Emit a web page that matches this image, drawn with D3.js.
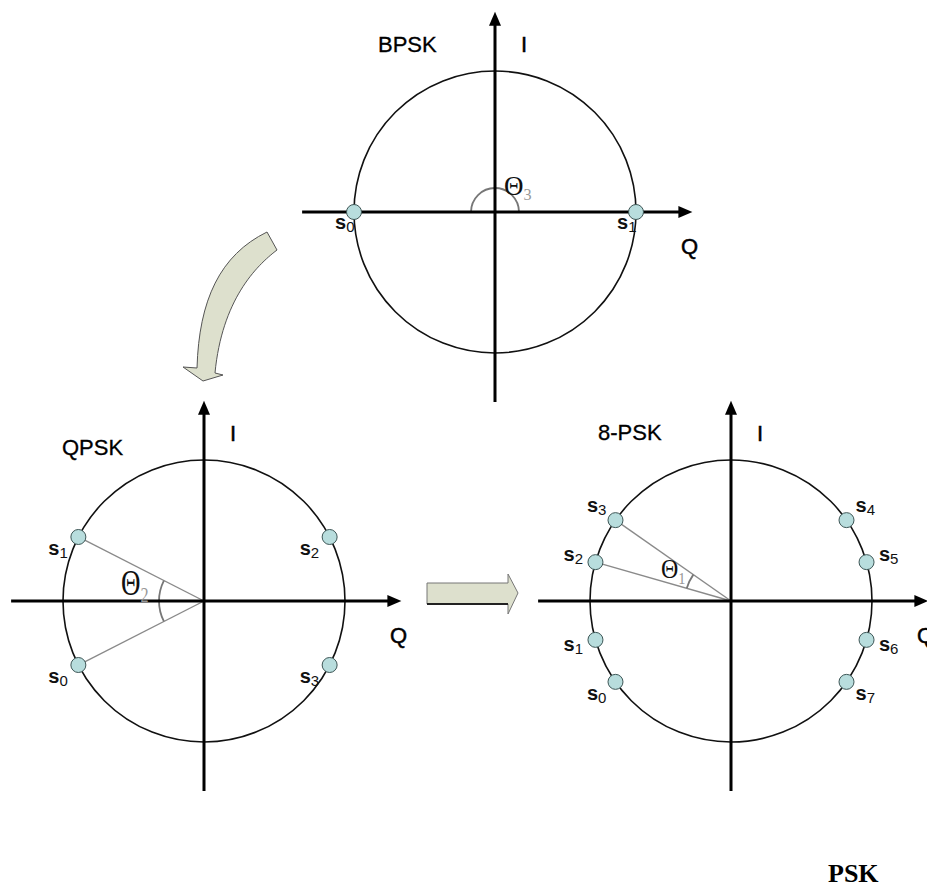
<!DOCTYPE html>
<html>
<head>
  <meta charset="utf-8" />
  <title>PSK constellations</title>
  <style type="text/css">
    body { margin: 0; background: #fff; }
    svg text { font-family: 'Liberation Sans', Arial, sans-serif; }
    .theta text, text.theta { font-family: 'Liberation Serif', 'Times New Roman', serif; }
  </style>
</head>
<body>
  <div id="graph"></div>

  <script src="https://cdnjs.cloudflare.com/ajax/libs/d3/7.8.5/d3.min.js"></script>
  <script>
// constellation data (angles in degrees, counter-clockwise from the Q axis)
var panelNames = ["BPSK", "QPSK", "8-PSK"];
var bpskAngles = [180, 0];
var bpskIndex  = ["0", "1"];
var qpskAngles = [207, 153, 27, -27];
var qpskIndex  = ["0", "1", "2", "3"];
var psk8Angles = [215, 196, 164, 145, 35, 16, -16, -35];
var psk8Index  = ["0", "1", "2", "3", "4", "5", "6", "7"];
// angle spanned by the theta marker in each panel
var thetaSpans = [[0, 180], [153, 207], [145, 164]];
var thetaIndex = ["3", "2", "1"];
var axisLabels = ["I", "Q"];
var caption = "PSK";

var width = 927, height = 890;
var R = 141;

var svg = d3.select("#graph").append("svg")
    .attr("width", width)
    .attr("height", height);

// layout of the three panels
var panels = [
  {name: panelNames[0], angles: bpskAngles, idx: bpskIndex, cx: 495, cy: 212,
   title: [-117, -160], label: "offset", off: [-19, 17],
   theta: thetaSpans[0], tIdx: thetaIndex[0], arcR: 24, tPos: [9, -17], tSize: 27, tScale: 1, rays: false},
  {name: panelNames[1], angles: qpskAngles, idx: qpskIndex, cx: 204, cy: 601,
   title: [-142, -146], label: "offset", off: [-30, 18],
   theta: thetaSpans[1], tIdx: thetaIndex[1], arcR: 45, tPos: [-83, -6], tSize: 27, tScale: 1.35, rays: true},
  {name: panelNames[2], angles: psk8Angles, idx: psk8Index, cx: 731, cy: 601,
   title: [-133, -161], label: "radial", off: [0, 0],
   theta: thetaSpans[2], tIdx: thetaIndex[2], arcR: 46, tPos: [-70, -23], tSize: 24, tScale: 1.1, rays: true}
];

var rad = function(d) { return d * Math.PI / 180; };

// decorative arrows between the panels
var arrowFill = "#dde0cd";
svg.append("path")
    .attr("d", "M267,232 L277,250 C256,266 222,300 215,373 L223,375 L203,381 L183,367 L197,368 C199,300 220,255 267,232 Z")
    .attr("fill", arrowFill)
    .attr("stroke", "#555")
    .attr("stroke-width", 1);
svg.append("path")
    .attr("d", "M427,583 L508,583 L508,574 L518,593 L508,614 L508,604 L427,604 Z")
    .attr("fill", arrowFill)
    .attr("stroke", "#777")
    .attr("stroke-width", 1);
svg.append("line")
    .attr("x1", 427).attr("x2", 508).attr("y1", 604).attr("y2", 604)
    .attr("stroke", "#222").attr("stroke-width", 2);

panels.forEach(function(p) {
  var x = d3.scaleLinear().domain([-1, 1]).range([p.cx - R, p.cx + R]);
  var y = d3.scaleLinear().domain([-1, 1]).range([p.cy + R, p.cy - R]);
  var g = svg.append("g");

  // unit circle
  g.append("circle")
      .attr("cx", x(0)).attr("cy", y(0))
      .attr("r", x(1) - x(0))
      .attr("fill", "none")
      .attr("stroke", "#111")
      .attr("stroke-width", 1.6);

  // rays from the theta points to the origin
  if (p.rays) {
    g.selectAll("line.ray")
        .data(p.theta)
      .enter().append("line")
        .attr("class", "ray")
        .attr("x1", function(a) { return x(Math.cos(rad(a))); })
        .attr("y1", function(a) { return y(Math.sin(rad(a))); })
        .attr("x2", x(0)).attr("y2", y(0))
        .attr("stroke", "#8a8a8a")
        .attr("stroke-width", 1.4);
  }

  // theta arc
  var ap = d3.path();
  ap.arc(x(0), y(0), p.arcR, -rad(p.theta[0]), -rad(p.theta[1]), true);
  g.append("path")
      .attr("d", ap.toString())
      .attr("fill", "none")
      .attr("stroke", "#777")
      .attr("stroke-width", 1.8);

  // axes with arrow heads
  var ax = [
    {x1: x(-1.368), y1: y(0), x2: x(1.40), y2: y(0), dir: [1, 0]},
    {x1: x(0), y1: y(-1.348), x2: x(0), y2: y(1.42), dir: [0, -1]}
  ];
  ax.forEach(function(a) {
    g.append("line")
        .attr("x1", a.x1).attr("y1", a.y1)
        .attr("x2", a.x2 - a.dir[0] * 8).attr("y2", a.y2 - a.dir[1] * 8)
        .attr("stroke", "#000")
        .attr("stroke-width", 3);
    var bx = a.x2 - a.dir[0] * 14, by = a.y2 - a.dir[1] * 14;
    var px = -a.dir[1] * 6, py = a.dir[0] * 6;
    g.append("path")
        .attr("d", "M" + a.x2 + "," + a.y2 + "L" + (bx + px) + "," + (by + py) +
                   "L" + (bx - px) + "," + (by - py) + "Z")
        .attr("fill", "#000");
  });

  // axis labels
  g.append("text")
      .attr("x", x(0) + 26).attr("y", y(0) - 160)
      .attr("font-size", 22)
      .attr("stroke", "#000").attr("stroke-width", 0.5)
      .text(axisLabels[0]);
  g.append("text")
      .attr("x", x(0) + 186).attr("y", y(0) + 42)
      .attr("font-size", 22)
      .attr("stroke", "#000").attr("stroke-width", 0.5)
      .text(axisLabels[1]);

  // panel title
  g.append("text")
      .attr("x", x(0) + p.title[0]).attr("y", y(0) + p.title[1])
      .attr("font-size", 22)
      .attr("stroke", "#000").attr("stroke-width", 0.3)
      .text(p.name);

  // theta label
  var tx = x(0) + p.tPos[0], ty = y(0) + p.tPos[1];
  var t = g.append("text")
      .attr("class", "theta")
      .attr("transform", "translate(" + tx + "," + ty + ") scale(1," + p.tScale + ")")
      .attr("font-size", p.tSize)
      .attr("fill", "#111");
  t.append("tspan").text("\u0398");
  t.append("tspan")
      .attr("font-size", p.tSize * 0.6)
      .attr("dy", 5)
      .attr("fill", "#999")
      .text(p.tIdx);

  // constellation points
  var pts = p.angles.map(function(a, i) {
    return {a: a, i: p.idx[i], c: Math.cos(rad(a)), s: Math.sin(rad(a))};
  });

  g.selectAll("circle.pt")
      .data(pts)
    .enter().append("circle")
      .attr("class", "pt")
      .attr("cx", function(d) { return x(d.c); })
      .attr("cy", function(d) { return y(d.s); })
      .attr("r", 7.5)
      .attr("fill", "#b8dddd")
      .attr("stroke", "#3d5555")
      .attr("stroke-width", 1);

  var lab = g.selectAll("text.pt")
      .data(pts)
    .enter().append("text")
      .attr("class", "pt")
      .attr("font-size", 20)
      .attr("font-weight", "bold")
      .attr("fill", "#111");
  if (p.label === "radial") {
    lab.attr("text-anchor", "middle")
        .attr("x", function(d) { return x(d.c) + 23 * d.c; })
        .attr("y", function(d) { return y(d.s) - 23 * d.s + 5; });
  } else {
    lab.attr("x", function(d) { return x(d.c) + p.off[0]; })
        .attr("y", function(d) { return y(d.s) + p.off[1]; });
  }
  lab.append("tspan").text("s");
  lab.append("tspan")
      .attr("font-size", 15)
      .attr("font-weight", "normal")
      .attr("dy", 3)
      .text(function(d) { return d.i; });
});

// caption
svg.append("text")
    .attr("class", "theta")
    .attr("x", 828).attr("y", 882)
    .attr("font-size", 26)
    .attr("font-weight", "bold")
    .text(caption);
  </script>
</body>
</html>
